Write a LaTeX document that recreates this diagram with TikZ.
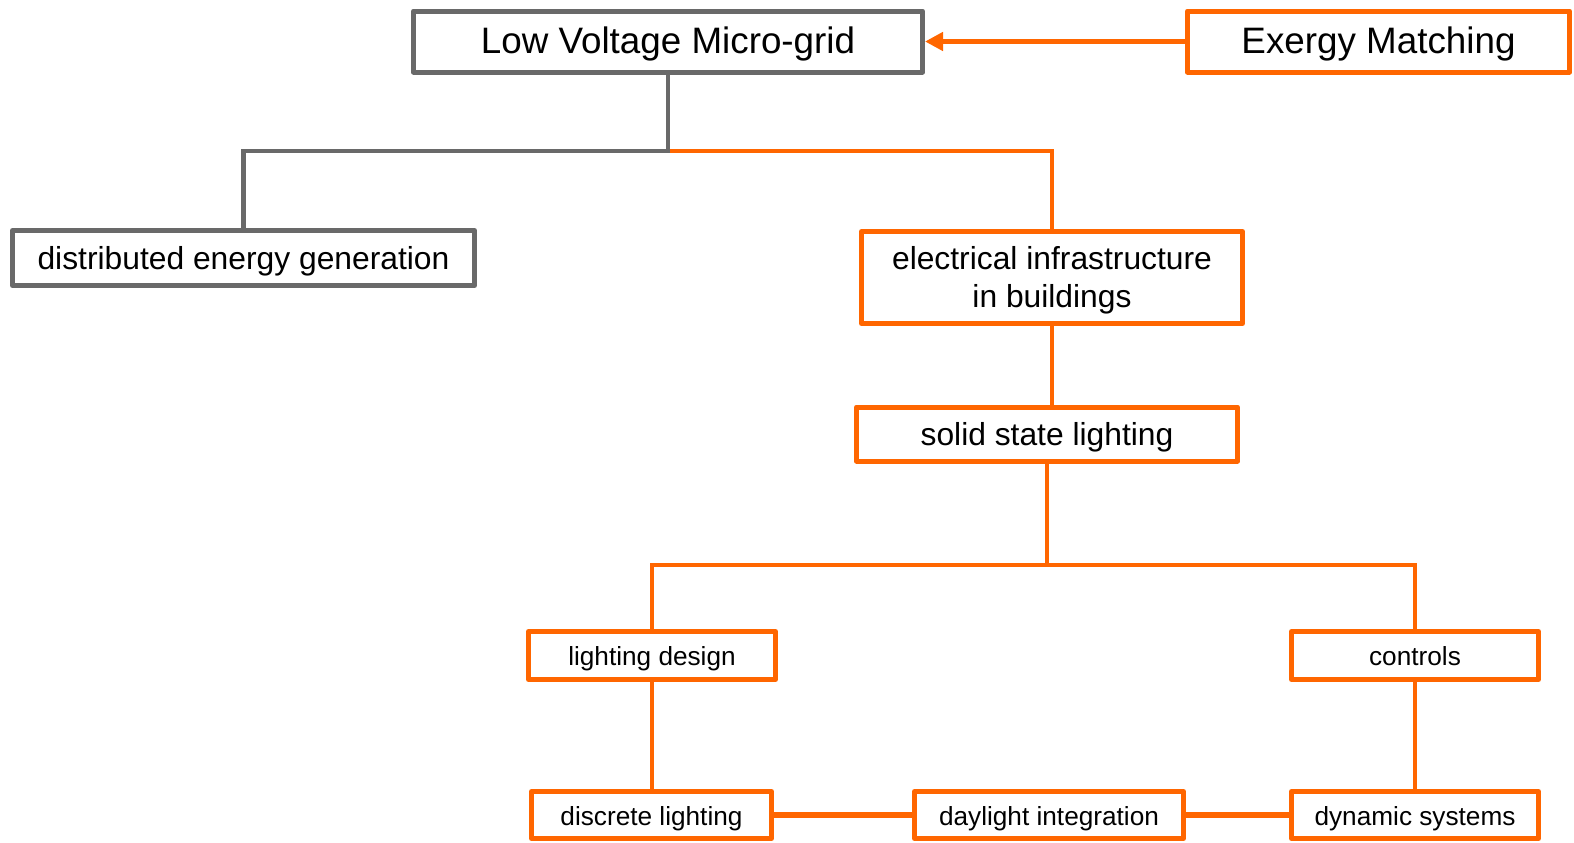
\documentclass[tikz,border=0pt]{standalone}
\usepackage{fontspec}
\setmainfont{Liberation Sans}
\usetikzlibrary{arrows.meta,positioning}
\definecolor{org}{HTML}{FF6600}
\definecolor{gry}{HTML}{696969}

\begin{document}
\begin{tikzpicture}[
    x=0.5pt, y=-0.5pt,
    bx/.style={rectangle, draw=org, line width=2.5pt, line join=round, fill=white, inner sep=0pt},
    big/.style={bx, font=\fontsize{18.4}{22}\selectfont, minimum height=30.5pt,
                text height=16.2pt, text depth=3.9pt},
    mid/.style={bx, font=\fontsize{15.9}{19}\selectfont, align=center,
                text height=14.4pt, text depth=3.3pt},
    sml/.style={bx, font=\fontsize{13.1}{16}\selectfont, minimum height=24pt,
                text height=12.9pt, text depth=2.75pt},
    ln/.style={org, line width=2.3pt},
    gl/.style={gry, line width=2.3pt},
  ]
  \useasboundingbox (0,0) rectangle (1574,842);
  \node[big, draw=gry, minimum width=254.5pt] (lv) at (668, 41.5) {Low Voltage Micro-grid};
  \node[big, minimum width=191pt] (em) at (1378.5, 41.5) {Exergy Matching};
  \node[mid, draw=gry, minimum width=231pt, minimum height=27.5pt] (deg) at (243.5, 258) {distributed energy generation};
  \node[mid, minimum width=190.5pt, minimum height=46pt, text height=33.4pt] (eib) at (1052, 277.5)
        {electrical infrastructure\\in buildings};
  \node[mid, minimum width=190.5pt, minimum height=27pt] (ssl) at (1047, 434) {solid state lighting};
  \node[sml, minimum width=123.5pt] (ld) at (652, 655.5) {lighting design};
  \node[sml, minimum width=123.5pt] (ct) at (1415, 655.5) {controls};
  \node[sml, minimum width=120pt, minimum height=23.5pt] (dl) at (651.5, 815) {discrete lighting};
  \node[sml, minimum width=134.5pt, minimum height=23.5pt] (di) at (1049, 815) {daylight integration};
  \node[sml, minimum width=123.5pt, minimum height=23.5pt] (ds) at (1415, 815) {dynamic systems};
  \coordinate (jtop) at (668, 151);
  \coordinate (jmid) at (1047, 565);
  \draw[ln, line width=2.6pt, -{Triangle[length=9pt, width=9pt]}] (em.west) -- (lv.east);
  \draw[ln] (jtop) -| (eib.north);
  \draw[gl] (lv.south) -- (jtop) -| (deg.north);
  \draw[ln] (eib.south) -- (eib.south |- ssl.north);
  \draw[ln] (ssl.south) -- (jmid);
  \draw[ln] (ld.north) |- (jmid) -| (ct.north);
  \draw[ln] (ld.south) -- (ld.south |- dl.north);
  \draw[ln] (ct.south) -- (ds.north);
  \draw[ln, line width=2.6pt] (dl.east) -- (di.west);
  \draw[ln, line width=2.6pt] (di.east) -- (ds.west);
\end{tikzpicture}
\end{document}
